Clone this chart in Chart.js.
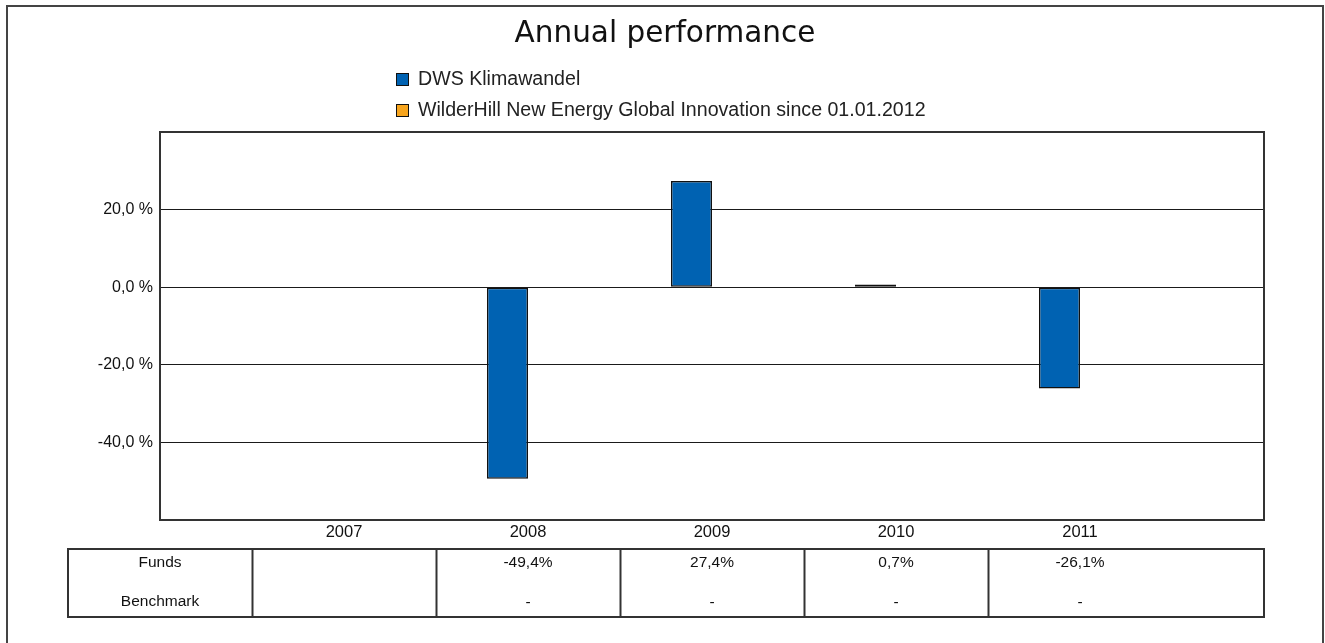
<!DOCTYPE html>
<html>
<head>
<meta charset="utf-8">
<script src="https://cdn.jsdelivr.net/npm/chart.js@4.4.1/dist/chart.umd.min.js"></script>
<style>
  body { margin: 0; background: #fff; font-family: "Liberation Sans", Arial, sans-serif; }
  #page { position: relative; width: 1325px; height: 643px; overflow: hidden; }
  #frame { position: absolute; left: 6px; top: 5px; width: 1314px; height: 700px; border: 2px solid #444; }
  #chartBox { position: absolute; left: 0; top: 0; width: 1325px; height: 643px; }
  #title { position: absolute; left: 0; width: 1330px; top: 15px; text-align: center;
           font-family: "DejaVu Sans", sans-serif; font-size: 29.5px; color: #111; }
  .legendItem { position: absolute; left: 396px; font-size: 19.6px; color: #222; line-height: 22px; white-space: nowrap; }
  .legendItem span { display: inline-block; width: 11px; height: 11px; border: 1px solid #111; margin-right: 9px; vertical-align: -1px; }
</style>
</head>
<body>
<div id="page">
  <div id="frame"></div>
  <div id="chartBox"><canvas id="perfChart"></canvas></div>
  <div id="title">Annual performance</div>
  <div class="legendItem" id="leg1" style="top:67px"><span></span>DWS Klimawandel</div>
  <div class="legendItem" id="leg2" style="top:98px"><span></span>WilderHill New Energy Global Innovation since 01.01.2012</div>
</div>
<script>
const years = ['2007', '2008', '2009', '2010', '2011'];
const fundsValues = [null, -49.4, 27.4, 0.7, -26.1];
const benchmarkValues = [null, null, null, null, null];
const fundsText = ['', '-49,4%', '27,4%', '0,7%', '-26,1%'];
const benchmarkText = ['', '-', '-', '-', '-'];
const rowNames = ['Funds', 'Benchmark'];
const seriesNames = ['DWS Klimawandel', 'WilderHill New Energy Global Innovation since 01.01.2012'];

const fundsColor = '#0062b2';
const benchColor = '#f7a51e';

document.querySelector('#leg1 span').style.background = fundsColor;
document.querySelector('#leg2 span').style.background = benchColor;

// one empty slot before and after, so the years sit like in the original
const labels = [''].concat(years, ['']);
const pad = arr => [null].concat(arr, [null]);

const tablePlugin = {
  id: 'tablePlugin',
  afterDraw(chart) {
    const ctx = chart.ctx;
    const area = chart.chartArea;
    const x = chart.scales.x;

    // plot frame
    ctx.save();
    ctx.strokeStyle = '#333';
    ctx.lineWidth = 2;
    ctx.strokeRect(area.left, area.top, area.right - area.left, area.bottom - area.top);

    // table under the axis
    const top = 549, bottom = 617;
    const left = x.getPixelForValue(-0.5);
    const right = area.right;
    ctx.strokeRect(left, top, right - left, bottom - top);
    for (let i = 0; i < years.length; i++) {
      const px = Math.round(x.getPixelForValue(i + 0.5)) + 0.5;
      ctx.beginPath();
      ctx.moveTo(px, top);
      ctx.lineTo(px, bottom);
      ctx.stroke();
    }

    ctx.fillStyle = '#111';
    ctx.font = '15.5px "Liberation Sans", Arial, sans-serif';
    ctx.textAlign = 'center';
    ctx.textBaseline = 'middle';
    ctx.fillText(rowNames[0], x.getPixelForValue(0), 563);
    ctx.fillText(rowNames[1], x.getPixelForValue(0), 602);
    for (let i = 0; i < years.length; i++) {
      const cx = x.getPixelForValue(i + 1);
      ctx.fillText(fundsText[i], cx, 563);
      ctx.fillText(benchmarkText[i], cx, 603);
    }
    ctx.restore();
  }
};

new Chart(document.getElementById('perfChart'), {
  type: 'bar',
  data: {
    labels: labels,
    datasets: [
      { label: seriesNames[0], data: pad(fundsValues), backgroundColor: fundsColor, borderColor: '#111', borderWidth: 1.5, borderSkipped: false },
      { label: seriesNames[1], data: pad(benchmarkValues), backgroundColor: benchColor, borderColor: '#111', borderWidth: 1.5, borderSkipped: false }
    ]
  },
  options: {
    responsive: true,
    maintainAspectRatio: false,
    animation: false,
    layout: { padding: { top: 132, left: 0, right: 61, bottom: 83 } },
    plugins: { legend: { display: false }, title: { display: false }, tooltip: { enabled: false } },
    datasets: { bar: { categoryPercentage: 0.446, barPercentage: 1 } },
    scales: {
      x: {
        offset: false,
        grid: { display: false, drawTicks: false },
        border: { display: false },
        ticks: {
          autoSkip: false, maxRotation: 0, padding: 3, color: '#111',
          font: { family: '"Liberation Sans", Arial, sans-serif', size: 16.5 }
        },
        afterFit(scale) { scale.height = 40; }
      },
      y: {
        min: -60,
        max: 40,
        grid: { color: '#1a1a1a', lineWidth: 1, drawTicks: false },
        border: { display: false },
        ticks: {
          stepSize: 20, padding: 7, color: '#111',
          font: { family: '"Liberation Sans", Arial, sans-serif', size: 16 },
          callback: v => (v === 40 || v === -60) ? '' : v.toFixed(1).replace('.', ',') + ' %'
        },
        afterFit(scale) { scale.width = 160; }
      }
    }
  },
  plugins: [tablePlugin]
});
</script>
</body>
</html>
